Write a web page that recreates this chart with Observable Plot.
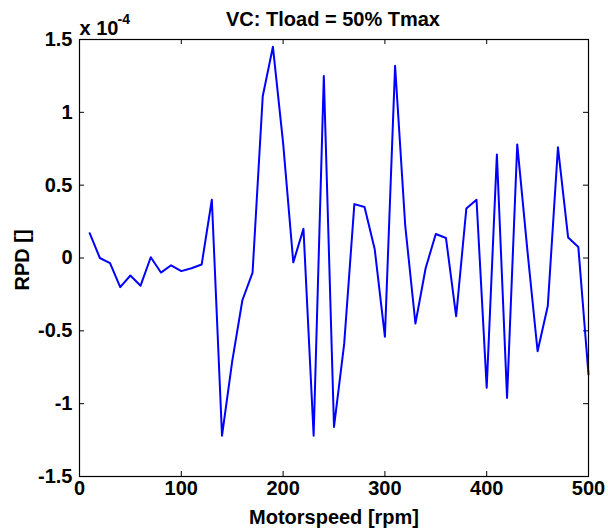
<!DOCTYPE html>
<html>
<head>
<meta charset="utf-8">
<script src="https://cdn.jsdelivr.net/npm/d3@7"></script>
<script src="https://cdn.jsdelivr.net/npm/@observablehq/plot@0.6"></script>
<style>
  html, body { margin: 0; padding: 0; background: #fff; }
  #chart svg { display: block; }
</style>
</head>
<body>
<div id="chart"></div>
<script>
// Motorspeed [rpm]
const speed = [10,20,30,40,50,60,70,80,90,100,110,120,130,140,150,160,170,180,190,200,
  210,220,230,240,250,260,270,280,290,300,310,320,330,340,350,360,370,380,390,400,
  410,420,430,440,450,460,470,480,490,500];
// RPD [] in units of 1e-4
const rpd = [0.17,0.00,-0.035,-0.20,-0.12,-0.19,0.005,-0.10,-0.05,-0.09,
  -0.07,-0.045,0.40,-1.22,-0.71,-0.29,-0.10,1.11,1.45,0.79,
  -0.03,0.20,-1.22,1.25,-1.16,-0.59,0.37,0.35,0.06,-0.54,
  1.32,0.22,-0.45,-0.07,0.165,0.137,-0.40,0.34,0.40,-0.89,
  0.71,-0.96,0.78,0.05,-0.64,-0.33,0.76,0.14,0.075,-0.80];
const xTicks = [0,100,200,300,400,500];
const yTicks = [-1.5,-1,-0.5,0,0.5,1,1.5];
const yTickLabels = ["-1.5","-1","-0.5","0","0.5","1","1.5"];
const title = "VC: Tload = 50% Tmax";
const xLabel = "Motorspeed [rpm]";
const yLabel = "RPD []";
const expBase = "x 10";
const expPower = "-4";

const data = speed.map((s, i) => ({speed: s, rpd: rpd[i]}));

const W = 608, H = 529;
const mL = 79, mR = 20, mT = 39, mB = 53;
const plotW = W - mL - mR, plotH = H - mT - mB;
const tickLen = 5;
const font = "'Liberation Sans', Arial, Helvetica, sans-serif";

const chart = Plot.plot({
  width: W, height: H,
  marginLeft: mL, marginRight: mR, marginTop: mT, marginBottom: mB,
  style: {fontFamily: font, fontSize: "20px", fontWeight: "bold", color: "black", background: "white"},
  x: {domain: [0, 500]},
  y: {domain: [-1.5, 1.5]},
  marks: [
    // inward ticks on all four sides
    Plot.tickX(xTicks, {x: d => d, insetTop: plotH - tickLen, stroke: "black", strokeWidth: 1}),
    Plot.tickX(xTicks, {x: d => d, insetBottom: plotH - tickLen, stroke: "black", strokeWidth: 1}),
    Plot.tickY(yTicks, {y: d => d, insetRight: plotW - tickLen, stroke: "black", strokeWidth: 1}),
    Plot.tickY(yTicks, {y: d => d, insetLeft: plotW - tickLen, stroke: "black", strokeWidth: 1}),
    Plot.axisX(xTicks, {anchor: "bottom", tickSize: 0, tickPadding: 4, fontSize: 20, fontWeight: "bold", label: null}),
    Plot.axisY(yTicks, {anchor: "left", tickSize: 0, tickPadding: 7, fontSize: 20, fontWeight: "bold", label: null,
      tickFormat: (d) => yTickLabels[yTicks.indexOf(d)]}),
    Plot.line(data, {x: "speed", y: "rpd", stroke: "#0000ff", strokeWidth: 2}),
    Plot.frame({stroke: "black", strokeWidth: 1.2}),
    Plot.text([title], {frameAnchor: "top", text: d => d, textAnchor: "middle", lineAnchor: "bottom", dy: -14, dx: -1,
      fontSize: 20, fontWeight: "bold", fill: "black"}),
    Plot.text([xLabel], {frameAnchor: "bottom", text: d => d, textAnchor: "middle", lineAnchor: "bottom", dy: 47,
      fontSize: 20, fontWeight: "bold", fill: "black"}),
    Plot.text([yLabel], {frameAnchor: "left", text: d => d, rotate: -90, textAnchor: "middle", dx: -57, dy: 2, lineAnchor: "middle",
      fontSize: 20, fontWeight: "bold", fill: "black"}),
    Plot.text([expBase], {frameAnchor: "top-left", text: d => d, textAnchor: "start", lineAnchor: "bottom", dy: -5,
      fontSize: 20, fontWeight: "bold", fill: "black"}),
    Plot.text([expPower], {frameAnchor: "top-left", text: d => d, textAnchor: "start", lineAnchor: "bottom", dx: 38, dy: -16,
      fontSize: 14, fontWeight: "bold", fill: "black"})
  ]
});
document.getElementById("chart").appendChild(chart);
</script>
</body>
</html>
